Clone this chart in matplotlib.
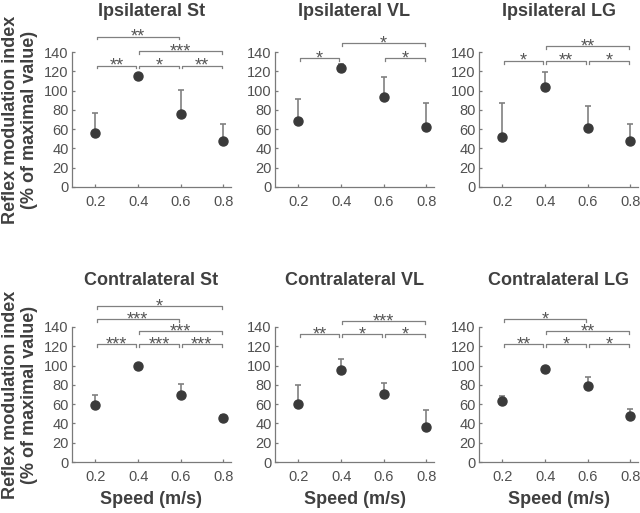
import matplotlib
matplotlib.use("Agg")
import matplotlib.pyplot as plt

plt.rcParams['font.family'] = ['Liberation Sans', 'DejaVu Sans']

# speeds on the x axis
speeds = [0.2, 0.4, 0.6, 0.8]
tick_labels = ['0.2', '0.4', '0.6', '0.8']

titles = ['Ipsilateral St', 'Ipsilateral VL', 'Ipsilateral LG',
          'Contralateral St', 'Contralateral VL', 'Contralateral LG']

# mean reflex modulation index (% of max)
ipsi_st = [56, 115, 76, 48]
ipsi_vl = [68, 123, 93, 62]
ipsi_lg = [52, 104, 61, 48]
contra_st = [59, 100, 70, 46]
contra_vl = [60, 95, 71, 36]
contra_lg = [63, 96, 79, 48]

# upper error (SD) for each point
ipsi_st_err = [21, 0, 25, 17]
ipsi_vl_err = [23, 5, 21, 25]
ipsi_lg_err = [35, 15, 23, 17]
contra_st_err = [11, 0, 11, 3]
contra_vl_err = [20, 12, 11, 18]
contra_lg_err = [5, 0, 9, 7]

# significance brackets: (from, to, height, stars)
ipsi_st_sig = [(0.2, 0.4, 126, '**'), (0.4, 0.6, 126, '*'), (0.6, 0.8, 126, '**'),
               (0.4, 0.8, 141, '***'), (0.2, 0.6, 156, '**')]
ipsi_vl_sig = [(0.2, 0.4, 134, '*'), (0.6, 0.8, 134, '*'), (0.4, 0.8, 149, '*')]
ipsi_lg_sig = [(0.2, 0.4, 131, '*'), (0.4, 0.6, 131, '**'), (0.6, 0.8, 131, '*'),
               (0.4, 0.8, 146, '**')]
contra_st_sig = [(0.2, 0.4, 122, '***'), (0.4, 0.6, 122, '***'), (0.6, 0.8, 122, '***'),
                 (0.4, 0.8, 136, '***'), (0.2, 0.6, 148, '***'), (0.2, 0.8, 162, '*')]
contra_vl_sig = [(0.2, 0.4, 133, '**'), (0.4, 0.6, 133, '*'), (0.6, 0.8, 133, '*'),
                 (0.4, 0.8, 146, '***')]
contra_lg_sig = [(0.2, 0.4, 122, '**'), (0.4, 0.6, 122, '*'), (0.6, 0.8, 122, '*'),
                 (0.4, 0.8, 136, '**'), (0.2, 0.6, 148, '*')]

means = [ipsi_st, ipsi_vl, ipsi_lg, contra_st, contra_vl, contra_lg]
errs = [ipsi_st_err, ipsi_vl_err, ipsi_lg_err, contra_st_err, contra_vl_err, contra_lg_err]
sigs = [ipsi_st_sig, ipsi_vl_sig, ipsi_lg_sig, contra_st_sig, contra_vl_sig, contra_lg_sig]

text_col = '#404040'
axis_col = '#7a7a7a'
W, H = 640, 513

fig = plt.figure(figsize=(6.4, 5.13), dpi=100)

lefts = [72, 275, 479]
bottoms = [187, 462]

for i in range(6):
    row, col = divmod(i, 3)
    ax = fig.add_axes([lefts[col] / W, 1 - bottoms[row] / H, 159 / W, 135 / H])

    ax.errorbar(speeds, means[i], yerr=[[0] * 4, errs[i]], fmt='o', color='#3a3a3a',
                ecolor='#808080', elinewidth=1.2, capsize=2.2, capthick=1.2,
                markersize=6.5, zorder=3)

    for x1, x2, y, lab in sigs[i]:
        a, b = x1 + 0.006, x2 - 0.008
        ax.plot([a, a, b, b], [y - 3, y, y, y - 3], color='#808080', lw=0.9,
                clip_on=False)
        ax.annotate(lab, ((a + b) / 2, y), xytext=(0, -3.8), textcoords='offset points',
                    ha='center', va='baseline', fontsize=13, color='#555555',
                    annotation_clip=False)

    ax.set_xlim(0.09, 0.836)
    ax.set_ylim(0, 140)
    ax.set_xticks(speeds)
    ax.set_xticklabels(tick_labels)
    ax.set_yticks(range(0, 141, 20))
    ax.tick_params(labelsize=10.5, labelcolor='#505050', color=axis_col, length=2,
                   width=0.9, direction='in')
    ax.tick_params(axis='y', pad=2.5)
    ax.tick_params(axis='x', pad=6)
    for s in ['top', 'right']:
        ax.spines[s].set_visible(False)
    for s in ['left', 'bottom']:
        ax.spines[s].set_color(axis_col)
        ax.spines[s].set_linewidth(0.9)

    ax.set_title(titles[i], fontsize=13, fontweight='bold', color=text_col,
                 pad=26 if row == 0 else 30)
    if col == 0:
        ax.set_ylabel('Reflex modulation index\n(% of maximal value)', fontsize=13,
                      fontweight='bold', color=text_col, labelpad=4)
    if row == 1:
        ax.set_xlabel('Speed (m/s)', fontsize=13, fontweight='bold', color=text_col,
                      labelpad=5)

fig.savefig('out.png', dpi=100)
